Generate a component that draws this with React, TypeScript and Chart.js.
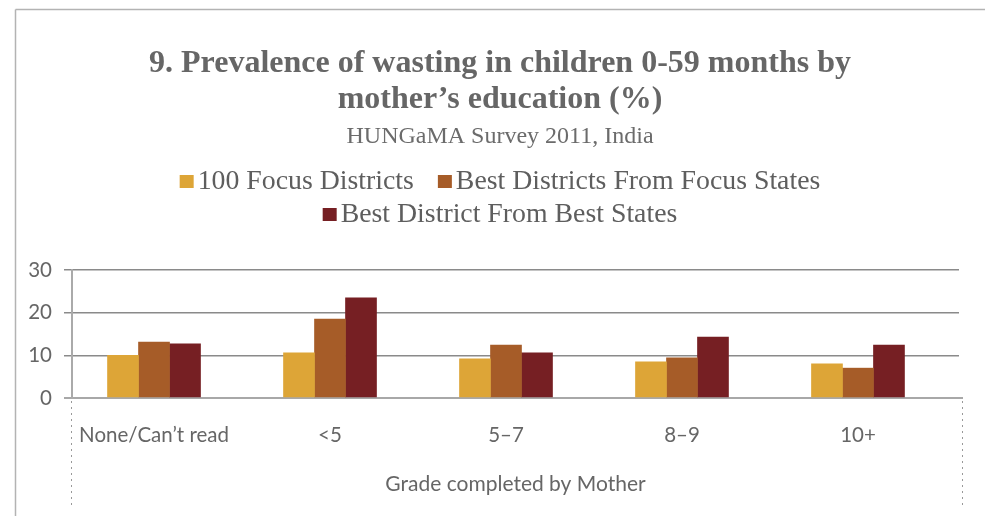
import React, { useEffect, useRef } from 'react';
import { Chart, registerables } from 'chart.js';

Chart.register(...registerables);

// ---- data ----
const categories = ['None/Can\u2019t read', '<5', '5\u20137', '8\u20139', '10+'];
const seriesNames = [
  '100 Focus Districts',
  'Best Districts From Focus States',
  'Best District From Best States',
];
const focusDistricts = [10.0, 10.6, 9.2, 8.5, 8.0];
const bestFromFocusStates = [13.1, 18.5, 12.4, 9.4, 7.0];
const bestFromBestStates = [12.7, 23.5, 10.6, 14.3, 12.4];
const yTickValues = [0, 10, 20, 30];
const titleLines = ['9. Prevalence of wasting in children 0-59 months by', 'mother\u2019s education (%)'];
const subtitleText = 'HUNGaMA Survey 2011, India';
const xAxisTitle = 'Grade completed by Mother';

const seriesColors = ['#DDA537', '#A65C28', '#761F23'];
const legendRows = [[0, 1], [2]];

const decorPlugin = {
  id: 'decor',
  beforeDraw(chart: any) {
    const ctx = chart.ctx;
    ctx.save();
    // outer frame (top + left)
    ctx.strokeStyle = '#b3b3b3';
    ctx.lineWidth = 1.5;
    ctx.beginPath();
    ctx.moveTo(15.5, 9.5);
    ctx.lineTo(985, 9.5);
    ctx.moveTo(15.5, 9.5);
    ctx.lineTo(15.5, 516);
    ctx.stroke();
    // dotted verticals under the axis
    const area = chart.chartArea;
    ctx.strokeStyle = '#999';
    ctx.lineWidth = 1;
    ctx.setLineDash([2, 4]);
    ctx.beginPath();
    ctx.moveTo(area.left - 0.5, area.bottom + 3);
    ctx.lineTo(area.left - 0.5, 506);
    ctx.moveTo(area.right + 3.5, area.bottom + 3);
    ctx.lineTo(area.right + 3.5, 506);
    ctx.stroke();
    ctx.setLineDash([]);
    ctx.restore();
  },
  afterDraw(chart: any) {
    const ctx = chart.ctx;
    const area = chart.chartArea;
    ctx.save();
    // short extension of the zero line to the right dotted edge
    ctx.strokeStyle = '#a8a8a8';
    ctx.lineWidth = 2;
    ctx.beginPath();
    ctx.moveTo(area.right, area.bottom);
    ctx.lineTo(area.right + 4, area.bottom);
    ctx.stroke();

    const cx = 500;
    ctx.textAlign = 'center';
    ctx.textBaseline = 'alphabetic';
    ctx.fillStyle = '#666666';
    ctx.font = 'bold 32px "Liberation Serif"';
    ctx.fillText(titleLines[0], cx, 72);
    ctx.fillText(titleLines[1], cx, 108);
    ctx.font = '24px "Liberation Serif"';
    ctx.fillStyle = '#6b6b6b';
    ctx.fillText(subtitleText, cx, 143);

    // legend
    ctx.font = '27.8px "Liberation Serif"';
    ctx.textAlign = 'left';
    const boxW = 14;
    const boxGap = 4;
    const itemGap = 24;
    const baselines = [189, 222];
    legendRows.forEach((row, r) => {
      const widths = row.map((i) => boxW + boxGap + ctx.measureText(seriesNames[i]).width);
      const total = widths.reduce((a, b) => a + b, 0) + itemGap * (row.length - 1);
      let x = cx - total / 2;
      const base = baselines[r];
      row.forEach((i, k) => {
        ctx.fillStyle = seriesColors[i];
        ctx.fillRect(x, base - 14, boxW, 13);
        ctx.fillStyle = '#5e5e5e';
        ctx.fillText(seriesNames[i], x + boxW + boxGap, base);
        x += widths[k] + itemGap;
      });
    });
    ctx.restore();
  },
};

export default function App() {
  const canvasRef = useRef<HTMLCanvasElement | null>(null);

  useEffect(() => {
    if (!canvasRef.current) return;
    const series = [focusDistricts, bestFromFocusStates, bestFromBestStates];
    const chart = new Chart(canvasRef.current, {
      type: 'bar',
      data: {
        datasets: series.map((vals, s) => ({
          label: seriesNames[s],
          data: vals.map((v, i) => ({ x: i, y: v })),
          backgroundColor: seriesColors[s],
          borderWidth: 0,
          barThickness: 31,
        })),
      },
      options: {
        animation: false,
        responsive: false,
        maintainAspectRatio: false,
        devicePixelRatio: 1,
        layout: { padding: { top: 270, right: 26, bottom: 0, left: 0 } },
        plugins: {
          legend: { display: false },
          title: { display: false },
          tooltip: { enabled: false },
        },
        scales: {
          x: {
            type: 'linear',
            min: -0.466,
            max: 4.574,
            offset: false,
            grid: { display: false, drawTicks: false, offset: false },
            border: { display: false },
            ticks: {
              stepSize: 1,
              includeBounds: false,
              autoSkip: false,
              maxRotation: 0,
              padding: 25,
              color: '#666',
              font: { family: 'Lato', size: 20.5 },
              callback: (v: any) => (Number.isInteger(v) && categories[v] !== undefined ? categories[v] : ''),
            },
            title: {
              display: true,
              text: xAxisTitle,
              color: '#666',
              font: { family: 'Lato', size: 21 },
              padding: { top: 0, bottom: 19 },
            },
            afterFit: (s: any) => {
              s.height = 118;
            },
          },
          y: {
            min: 0,
            max: 30,
            afterBuildTicks: (s: any) => {
              s.ticks = yTickValues.map((v) => ({ value: v }));
            },
            ticks: {
              stepSize: 10,
              padding: 12,
              color: '#666',
              font: { family: 'Lato', size: 20.5 },
            },
            grid: {
              color: (c: any) => (c.tick && c.tick.value === 0 ? '#a8a8a8' : '#8a8a8a'),
              lineWidth: (c: any) => (c.tick && c.tick.value === 0 ? 2 : 1.5),
              tickLength: 8,
            },
            border: { display: true, color: '#aaaaaa', width: 2 },
            afterFit: (s: any) => {
              s.width = 72;
            },
          },
        },
      } as any,
      plugins: [decorPlugin],
    });
    return () => chart.destroy();
  }, []);

  return (
    <div style={{ position: 'absolute', left: 0, top: 0, width: 985, height: 516, background: '#fff' }}>
      <canvas ref={canvasRef} width={985} height={516} style={{ display: 'block', width: 985, height: 516 }} />
    </div>
  );
}
